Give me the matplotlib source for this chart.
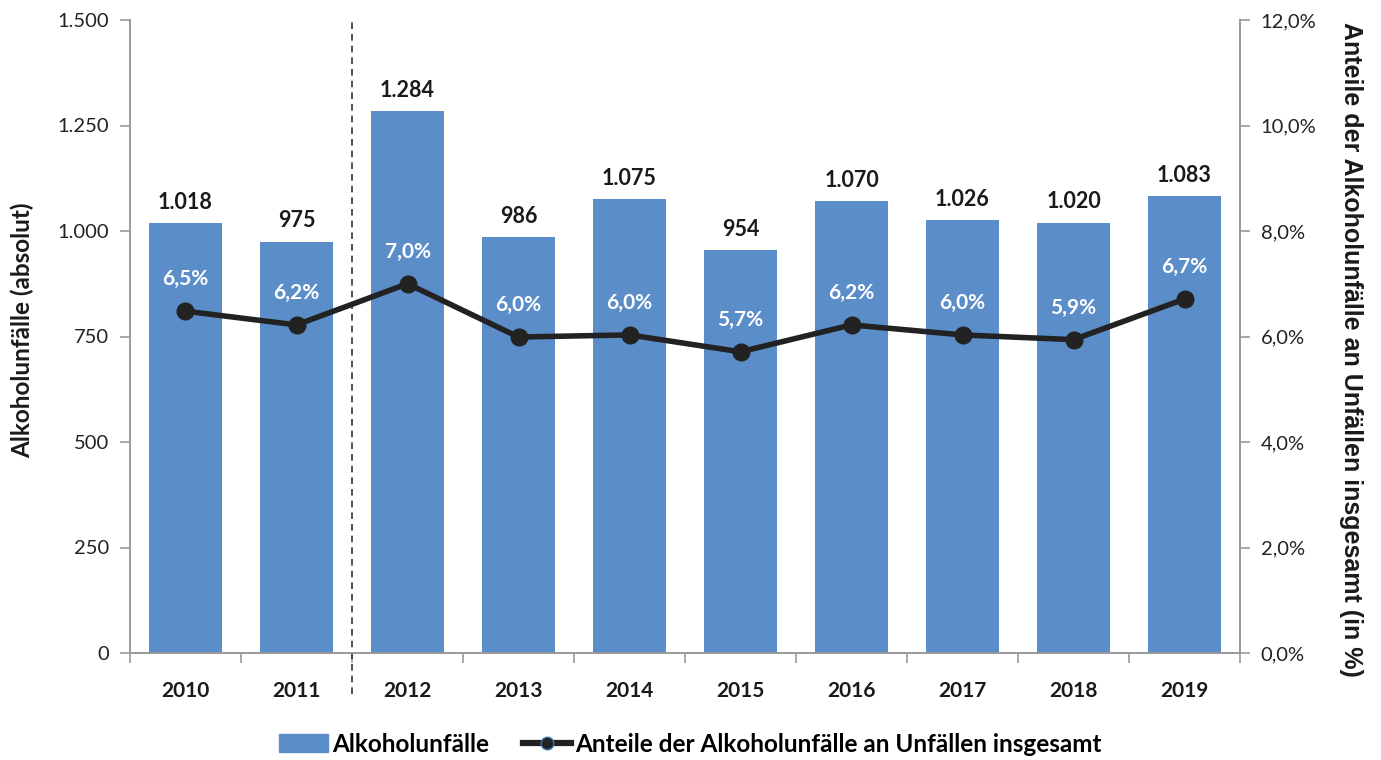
import matplotlib.pyplot as plt
import matplotlib.ticker as mticker
from matplotlib.lines import Line2D
from matplotlib.patches import Patch

plt.rcParams['font.family'] = ['Lato', 'DejaVu Sans']

years = ['2010', '2011', '2012', '2013', '2014', '2015', '2016', '2017', '2018', '2019']
unfaelle = [1018, 975, 1284, 986, 1075, 954, 1070, 1026, 1020, 1083]
anteil = [6.48, 6.22, 7.0, 5.99, 6.03, 5.71, 6.22, 6.03, 5.94, 6.71]

def de_num(v):
    return '{:,}'.format(int(v)).replace(',', '.')

def de_pct(v):
    return '{:.1f}%'.format(v).replace('.', ',')

fig = plt.figure(figsize=(13.81, 7.6), dpi=100)
ax = fig.add_axes([130 / 1381, 1 - 653 / 760, 1110 / 1381, 633 / 760])
ax2 = ax.twinx()

x = list(range(len(years)))
ax.bar(x, unfaelle, width=0.65, color='#5b8ec9', zorder=2)
ax.set_xlim(-0.5, len(years) - 0.5)
ax.set_ylim(0, 1500)
ax.set_yticks(range(0, 1501, 250))
ax.yaxis.set_major_formatter(mticker.FuncFormatter(lambda v, p: de_num(v)))

ax2.plot(x, anteil, color='#222222', lw=4, marker='o', ms=12, mfc='#222222', mec='#222222', zorder=3)
ax2.set_ylim(0, 12)
ax2.set_yticks(range(0, 13, 2))
ax2.yaxis.set_major_formatter(mticker.FuncFormatter(lambda v, p: de_pct(v)))

for i, v in enumerate(unfaelle):
    ax.text(i, v + 24, de_num(v), ha='center', va='bottom', fontsize=15.5, fontweight='bold', color='#1a1a1a')
for i, v in enumerate(anteil):
    ax2.text(i, v + 0.42, de_pct(v), ha='center', va='bottom', fontsize=15, fontweight='bold', color='white')

# Trennlinie zwischen 2011 und 2012
ax.axvline(1.5, ymin=-0.065, ymax=1, color='#333333', lw=1.2, ls=(0, (4, 3)), clip_on=False)

ax.set_xticks(x)
ax.set_xticklabels(years, fontsize=15, fontweight='bold', color='#1a1a1a')
ax.set_xticks([i + 0.5 for i in range(-1, len(years))], minor=True)
ax.tick_params(axis='x', which='major', length=0, pad=20)
ax.tick_params(axis='x', which='minor', length=7, color='#999999', width=1.2)
ax.tick_params(axis='y', length=7, color='#999999', width=1.2, labelsize=14.5, labelcolor='#222222', pad=8)
ax2.tick_params(axis='y', length=7, color='#999999', width=1.2, labelsize=14.5, labelcolor='#222222', pad=8)

for a in (ax, ax2):
    a.spines['top'].set_visible(False)
    for s in ('left', 'right', 'bottom'):
        a.spines[s].set_color('#999999')
        a.spines[s].set_linewidth(1.2)

ax.set_ylabel('Alkoholunfälle (absolut)', fontsize=17.5, fontweight='bold', color='#1a1a1a')
ax.yaxis.set_label_coords(-0.086, 0.51)
ax2.set_ylabel('Anteile der Alkoholunfälle an Unfällen insgesamt (in %)', fontsize=18,
               fontweight='bold', color='#1a1a1a', rotation=-90,
               family=['Liberation Sans', 'DejaVu Sans'])
ax2.yaxis.set_label_coords(1.111, 0.48)

handles = [Patch(color='#5b8ec9'),
           Line2D([], [], color='#222222', lw=4.5, marker='o', ms=9, mfc='#222222', mec='#3a6fb0')]
fig.legend(handles, ['Alkoholunfälle', 'Anteile der Alkoholunfälle an Unfällen insgesamt'],
           loc='center', bbox_to_anchor=(0.5, 1 - 744 / 760), ncol=2, frameon=False,
           prop={'size': 17.5, 'weight': 'bold'}, handlelength=2.0, handletextpad=0.15, columnspacing=1.4)

fig.savefig('out.png', dpi=100)
